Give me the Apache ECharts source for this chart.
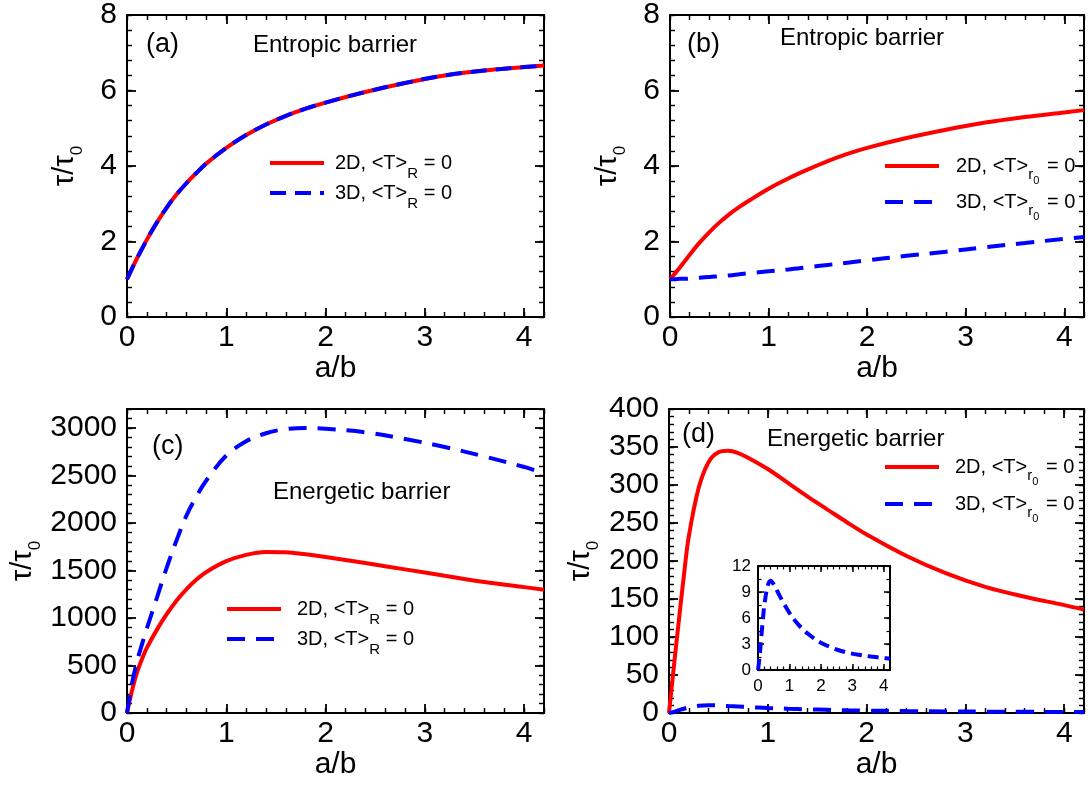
<!DOCTYPE html>
<html>
<head>
<meta charset="utf-8">
<script src="https://cdn.jsdelivr.net/npm/echarts@6/dist/echarts.min.js"></script>
<style>
html,body{margin:0;padding:0;background:#fff;}
#c{width:1088px;height:790px;}
</style>
</head>
<body>
<div id="c"></div>
<script>
// ---- data ----
const abRatio = [0,0.05,0.1,0.15,0.2,0.3,0.4,0.5,0.6,0.7,0.8,1.0,1.2,1.4,1.6,1.8,2.0,2.4,2.8,3.2,3.6,4.0,4.2];
// (a) entropic barrier, <T>_R = 0 (2D and 3D coincide)
const tauA2D = [1.0,1.28,1.55,1.8,2.05,2.5,2.9,3.25,3.55,3.82,4.07,4.48,4.82,5.1,5.33,5.52,5.68,5.96,6.2,6.4,6.53,6.62,6.66];
const tauA3D = [1.0,1.28,1.55,1.8,2.05,2.5,2.9,3.25,3.55,3.82,4.07,4.48,4.82,5.1,5.33,5.52,5.68,5.96,6.2,6.4,6.53,6.62,6.66];
// (b) entropic barrier, <T>_r0 = 0
const tauB2D = [1.0,1.15,1.31,1.48,1.65,1.97,2.25,2.5,2.72,2.91,3.08,3.4,3.67,3.91,4.13,4.32,4.48,4.74,4.96,5.15,5.3,5.42,5.48];
const tauB3D = [1.0,1.0,1.01,1.01,1.02,1.04,1.06,1.08,1.1,1.13,1.16,1.21,1.26,1.32,1.38,1.44,1.5,1.62,1.73,1.85,1.96,2.07,2.12];
// (c) energetic barrier, <T>_R = 0
const tauC2D = [0,235,425,565,685,875,1040,1185,1305,1405,1485,1598,1665,1695,1692,1670,1642,1578,1512,1445,1380,1325,1298];
const tauC3D = [0,310,540,720,890,1210,1530,1820,2080,2280,2450,2710,2860,2945,2988,3000,2992,2955,2885,2800,2700,2590,2520];
// (d) energetic barrier, <T>_r0 = 0
const tauD2D = [0,62,122,180,232,296,330,343,345,342,336,321,303,285,268,251,235,207,184,166,153,142,136];
const tauD3D = [0,1.5,3.6,5.6,7.4,9.6,10.3,9.9,9.2,8.5,7.8,6.6,5.6,4.8,4.15,3.6,3.15,2.5,2.05,1.75,1.55,1.38,1.3];

const panelLabels = ['(a)','(b)','(c)','(d)'];
const panelTitles = ['Entropic barrier','Entropic barrier','Energetic barrier','Energetic barrier'];

// ---- styling ----
const FONT = '"Liberation Sans", Arial, Helvetica, sans-serif';
const RED = '#ff0000', BLUE = '#0000ff';
const DASH = [18, 11];

const grids = [
  {left:127, top:13, width:417, height:304},
  {left:670, top:13, width:414, height:304},
  {left:127, top:409, width:417, height:304},
  {left:669, top:409, width:415, height:304},
  {left:758, top:566, width:132, height:104}
];

function pts(ys){ return abRatio.map((x,i)=>[x, ys[i]]); }

function makeAxes(dim, gi, s) {
  const mainPos = dim === 'x' ? 'bottom' : 'left';
  const oppPos = dim === 'x' ? 'top' : 'right';
  const base = (pos, interval, len, showLine, tw) => ({
    gridIndex: gi, type: 'value', position: pos, min: s.min, max: s.max, interval: interval,
    axisLine: {show: showLine, onZero: false, lineStyle: {color: '#000', width: s.lw}},
    axisTick: {show: true, inside: true, length: len, lineStyle: {color: '#000', width: tw}},
    axisLabel: {show: false}, splitLine: {show: false}, minorTick: {show: false},
    silent: true, axisPointer: {show: false}
  });
  const a0 = base(mainPos, s.major, s.majLen, true, s.tw);
  a0.axisLabel = {show: true, fontSize: s.fs, fontFamily: FONT, color: '#000', margin: s.margin,
                  showMaxLabel: s.showMax, formatter: v => String(v)};
  if (s.name) Object.assign(a0, s.name);
  return [a0,
          base(mainPos, s.minor, s.minLen, false, s.tw * 0.8),
          base(oppPos, s.major, s.majLen, true, s.tw),
          base(oppPos, s.minor, s.minLen, false, s.tw * 0.8)];
}

const xName = {name: 'a/b', nameLocation: 'middle', nameGap: 37,
  nameTextStyle: {fontSize: 30, fontFamily: FONT, color: '#000'}};
function yName(gap) {
  return {name: '{m|τ/τ}{s|0}', nameLocation: 'middle', nameGap: gap, nameRotate: 90,
    nameTextStyle: {color: '#000', rich: {
      m: {fontSize: 29, fontFamily: FONT, color: '#000', lineHeight: 44},
      s: {fontSize: 17, fontFamily: FONT, color: '#000', verticalAlign: 'top', padding: [26,0,0,0]}
    }}};
}

const xSpec = {min: 0, max: 4.2, major: 1, minor: 0.2, lw: 2, tw: 1.8, majLen: 9, minLen: 5, fs: 30, margin: 6, showMax: false};
const xAxes = [], yAxes = [];
for (let g = 0; g < 4; g++) xAxes.push(...makeAxes('x', g, Object.assign({}, xSpec, {name: xName})));
xAxes.push(...makeAxes('x', 4, {min: 0, max: 4.2, major: 1, minor: 0.2, lw: 2, tw: 1.5, majLen: 6, minLen: 3.5, fs: 17, margin: 8, showMax: false}));

const ySpecBase = {min: 0, lw: 2, tw: 1.8, majLen: 9, minLen: 5, fs: 30, margin: 10};
yAxes.push(...makeAxes('y', 0, Object.assign({}, ySpecBase, {max: 8, major: 2, minor: 0.4, showMax: true, name: yName(40)})));
yAxes.push(...makeAxes('y', 1, Object.assign({}, ySpecBase, {max: 8, major: 2, minor: 0.4, showMax: true, name: yName(40)})));
yAxes.push(...makeAxes('y', 2, Object.assign({}, ySpecBase, {max: 3200, major: 500, minor: 100, showMax: false, name: yName(82)})));
yAxes.push(...makeAxes('y', 3, Object.assign({}, ySpecBase, {max: 400, major: 50, minor: 10, showMax: true, name: yName(66)})));
yAxes.push(...makeAxes('y', 4, {min: 0, max: 12, major: 3, minor: 1.5, lw: 2, tw: 1.5, majLen: 6, minLen: 3.5, fs: 17, margin: 7, showMax: true}));

function line(name, g, ys, color, dashed, dash) {
  return {
    name: name, type: 'line', xAxisIndex: g * 4, yAxisIndex: g * 4, data: pts(ys),
    symbol: 'none', showSymbol: false, smooth: 0.35, clip: false, silent: true,
    lineStyle: {color: color, width: 4, type: dashed ? (dash || DASH) : 'solid', cap: 'butt'},
    itemStyle: {color: color}, z: dashed ? 4 : 3, animation: false
  };
}

const series = [
  line('a2D', 0, tauA2D, RED, false),
  line('a3D', 0, tauA3D, BLUE, true, [16, 9]),
  line('b2D', 1, tauB2D, RED, false),
  line('b3D', 1, tauB3D, BLUE, true),
  line('c2D', 2, tauC2D, RED, false),
  line('c3D', 2, tauC3D, BLUE, true),
  line('d2D', 3, tauD2D, RED, false),
  line('d3D', 3, tauD3D, BLUE, true),
  line('inset3D', 4, tauD3D, BLUE, true, [11, 6])
];

const legendText = {
  a2D: '{f|2D, <T>}{R|R}{m| = 0}', a3D: '{f|3D, <T>}{R|R}{m| = 0}',
  c2D: '{f|2D, <T>}{R|R}{m| = 0}', c3D: '{f|3D, <T>}{R|R}{m| = 0}',
  b2D: '{f|2D, <T>}{r|r}{z|0}{m| = 0}', b3D: '{f|3D, <T>}{r|r}{z|0}{m| = 0}',
  d2D: '{f|2D, <T>}{r|r}{z|0}{m| = 0}', d3D: '{f|3D, <T>}{r|r}{z|0}{m| = 0}'
};
function legendItem(name, left, lineY, padLeft) {
  return {
    show: true, data: [name], left: left, top: lineY - 21, orient: 'vertical', padding: 0,
    itemWidth: 54, itemHeight: 14, itemGap: 0, selectedMode: false,
    lineStyle: {width: 4, type: 'inherit', color: 'inherit', cap: 'butt'},
    itemStyle: {opacity: 0, borderWidth: 0},
    formatter: n => legendText[n],
    textStyle: {color: '#000', fontFamily: FONT, rich: {
      f: {fontSize: 20, fontFamily: FONT, color: '#000', lineHeight: 42, padding: [0,0,0,padLeft]},
      m: {fontSize: 20, fontFamily: FONT, color: '#000', lineHeight: 42},
      R: {fontSize: 15, fontFamily: FONT, color: '#000', verticalAlign: 'top', padding: [24,0,0,0]},
      r: {fontSize: 15, fontFamily: FONT, color: '#000', verticalAlign: 'top', padding: [22,0,0,0]},
      z: {fontSize: 11, fontFamily: FONT, color: '#000', verticalAlign: 'top', padding: [30,2,0,0]}
    }}
  };
}
const legends = [
  legendItem('a2D', 268, 174, 6), legendItem('a3D', 268, 204, 6),
  legendItem('b2D', 883, 177, 12), legendItem('b3D', 883, 213, 12),
  legendItem('c2D', 225, 620, 11), legendItem('c3D', 225, 650, 11),
  legendItem('d2D', 883, 478, 11), legendItem('d3D', 883, 515, 11)
];

function txt(t, x, y, fs) {
  return {type: 'text', x: x, y: y, silent: true, z: 10,
    style: {text: t, fontSize: fs, fontFamily: FONT, fill: '#000', align: 'left', verticalAlign: 'middle'}};
}
const labelPos = [[146,45],[687,45],[152,447],[682,435]];
const titlePos = [[253,45],[780,38],[273,492],[767,439]];
const graphics = [];
for (let i = 0; i < 4; i++) {
  graphics.push(txt(panelLabels[i], labelPos[i][0], labelPos[i][1], 27));
  graphics.push(txt(panelTitles[i], titlePos[i][0], titlePos[i][1], 24));
}

const chart = echarts.init(document.getElementById('c'), null, {renderer: 'canvas', width: 1088, height: 790});
chart.setOption({
  backgroundColor: '#fff',
  animation: false,
  grid: grids.map(g => Object.assign({containLabel: false}, g)),
  xAxis: xAxes,
  yAxis: yAxes,
  legend: legends,
  series: series,
  graphic: graphics
});
</script>
</body>
</html>
